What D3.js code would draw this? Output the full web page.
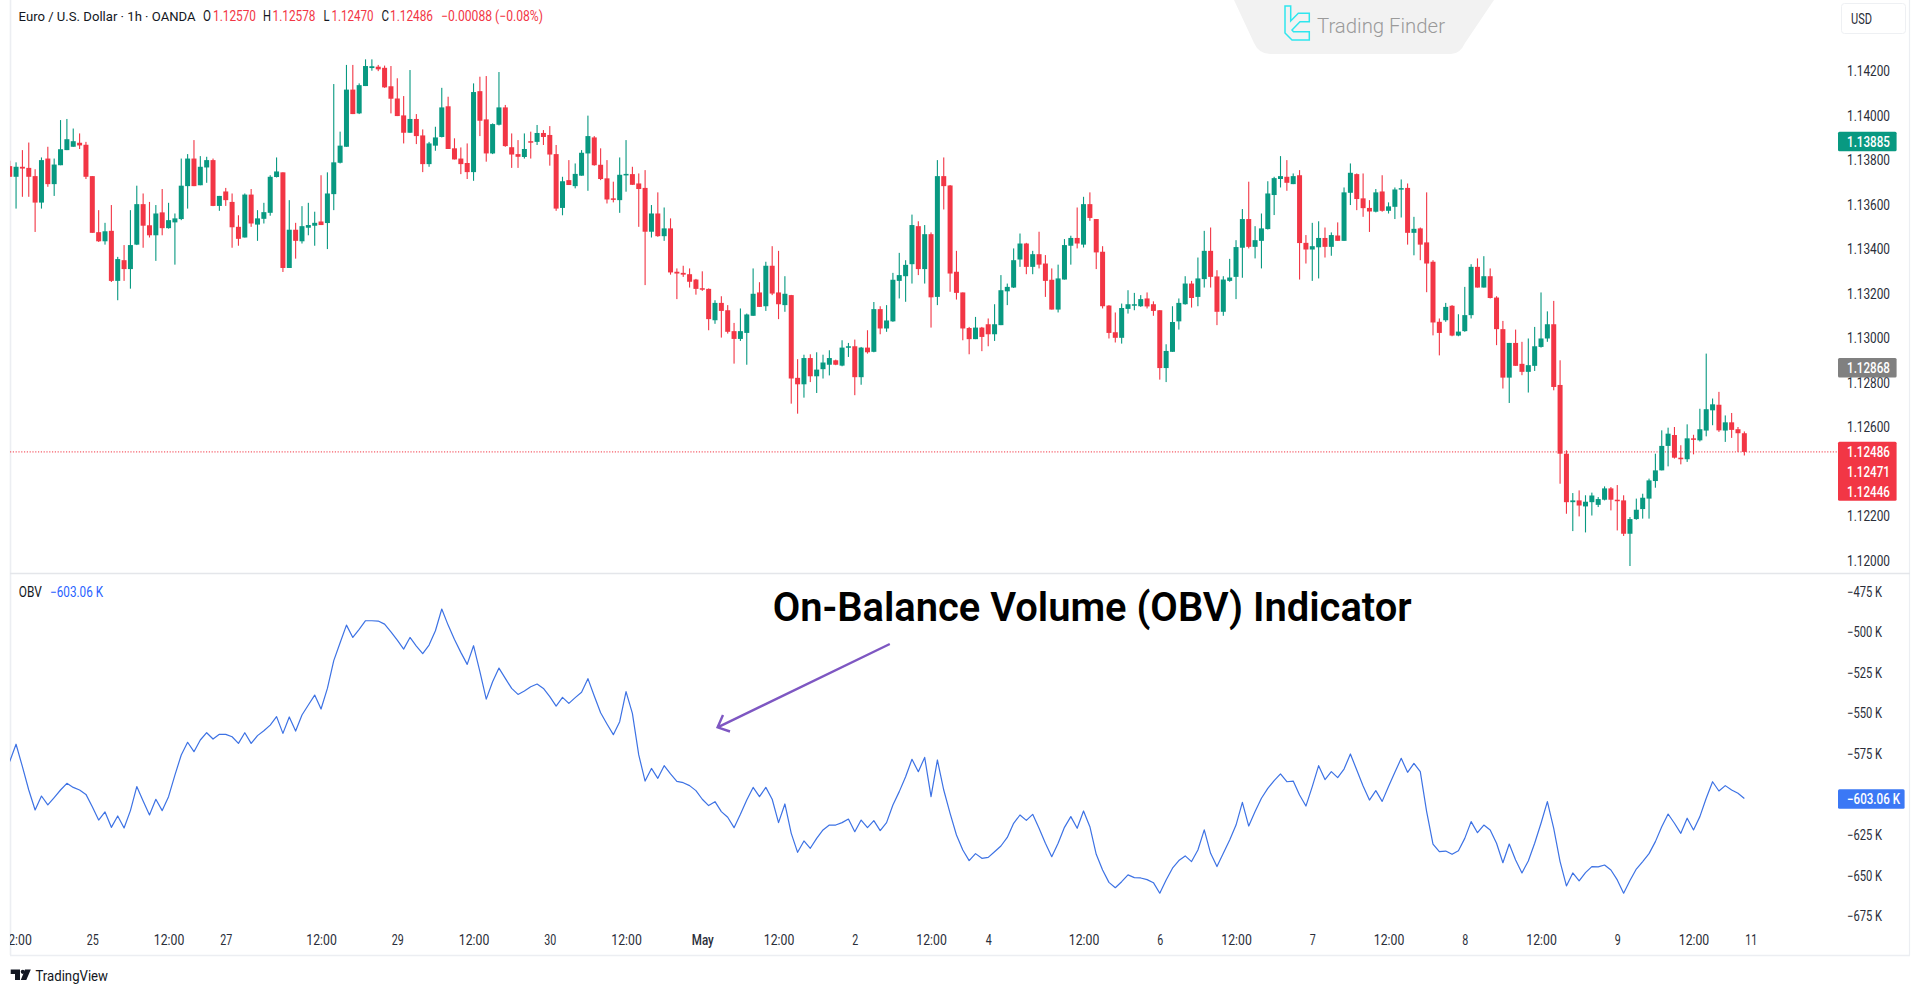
<!DOCTYPE html>
<html>
<head>
<meta charset="utf-8">
<script src="https://cdn.jsdelivr.net/npm/d3@7"></script>
<style>
html, body { margin: 0; padding: 0; background: #fff; }
text { font-family: Roboto, "Liberation Sans", sans-serif; }
</style>
</head>
<body>
<div></div>
<script>
// EUR/USD 1h candles
var highs = [
1.13795,1.13788,1.13843,1.13877,1.13757,1.13810,1.13858,1.13805,1.13978,1.13983,
1.13940,1.13918,1.13880,1.13726,1.13573,1.13516,1.13596,1.13363,1.13416,1.13573,
1.13683,1.13648,1.13610,1.13596,1.13668,1.13606,1.13558,1.13805,1.13825,1.13888,
1.13816,1.13813,1.13805,1.13637,1.13673,1.13648,1.13550,1.13648,1.13668,1.13573,
1.13606,1.13730,1.13810,1.13743,1.13618,1.13516,1.13591,1.13606,1.13566,1.13730,
1.13743,1.14140,1.13926,1.14226,1.14226,1.14143,1.14251,1.14251,1.14226,1.14223,
1.14221,1.14166,1.14086,1.14203,1.14005,1.13936,1.13880,1.13948,1.14123,1.14083,
1.13896,1.13855,1.13873,1.14143,1.14173,1.14176,1.13963,1.14194,1.14046,1.13918,
1.13888,1.13918,1.13926,1.13956,1.13933,1.13951,1.13866,1.13723,1.13798,1.13783,
1.13843,1.13998,1.13906,1.13851,1.13798,1.13701,1.13810,1.13888,1.13768,1.13738,
1.13753,1.13596,1.13653,1.13585,1.13536,1.13311,1.13323,1.13311,1.13264,1.13298,
1.13221,1.13168,1.13186,1.13146,1.13066,1.13131,1.13108,1.13311,1.13249,1.13341,
1.13411,1.13390,1.13276,1.13192,1.12903,1.12923,1.12925,1.12934,1.12923,1.12943,
1.12901,1.12988,1.12976,1.12991,1.12958,1.13033,1.13160,1.13141,1.13146,1.13291,
1.13381,1.13348,1.13553,1.13523,1.13506,1.13473,1.13798,1.13810,1.13686,1.13390,
1.13203,1.13048,1.13093,1.13048,1.13086,1.13150,1.13281,1.13243,1.13401,1.13468,
1.13426,1.13390,1.13476,1.13371,1.13311,1.13328,1.13443,1.13458,1.13585,1.13633,
1.13653,1.13533,1.13411,1.13146,1.13113,1.13153,1.13213,1.13201,1.13191,1.13203,
1.13163,1.13123,1.12970,1.13141,1.13176,1.13276,1.13255,1.13360,1.13480,1.13495,
1.13303,1.13276,1.13354,1.13438,1.13578,1.13701,1.13501,1.13558,1.13703,1.13723,
1.13816,1.13798,1.13738,1.13753,1.13461,1.13516,1.13523,1.13495,1.13473,1.13518,
1.13675,1.13783,1.13738,1.13738,1.13618,1.13668,1.13730,1.13608,1.13675,1.13711,
1.13693,1.13543,1.13495,1.13653,1.13348,1.13086,1.13156,1.13146,1.13105,1.13228,
1.13330,1.13356,1.13366,1.13311,1.13186,1.13075,1.12976,1.13036,1.12981,1.12996,
1.13048,1.13203,1.13118,1.13165,1.12898,1.12493,1.12301,1.12313,1.12291,1.12303,
1.12283,1.12331,1.12328,1.12337,1.12291,1.12193,1.12276,1.12298,1.12366,1.12478,
1.12583,1.12595,1.12598,1.12516,1.12610,1.12563,1.12680,1.12928,1.12726,1.12756,
1.12650,1.12661,1.12598,1.12578];
var lows = [
1.13723,1.13580,1.13633,1.13633,1.13475,1.13580,1.13678,1.13637,1.13775,1.13843,
1.13858,1.13848,1.13713,1.13471,1.13430,1.13418,1.13250,1.13168,1.13255,1.13220,
1.13416,1.13404,1.13450,1.13345,1.13460,1.13490,1.13328,1.13528,1.13580,1.13681,
1.13685,1.13696,1.13591,1.13570,1.13592,1.13404,1.13413,1.13450,1.13498,1.13435,
1.13513,1.13548,1.13720,1.13295,1.13313,1.13355,1.13423,1.13460,1.13413,1.13506,
1.13398,1.13573,1.13783,1.13858,1.14005,1.14005,1.14131,1.14200,1.14198,1.14123,
1.14008,1.13996,1.13873,1.13921,1.13870,1.13744,1.13768,1.13840,1.13900,1.13848,
1.13801,1.13735,1.13713,1.13705,1.13906,1.13791,1.13825,1.13954,1.13858,1.13763,
1.13763,1.13805,1.13805,1.13866,1.13866,1.13773,1.13570,1.13550,1.13686,1.13671,
1.13728,1.13660,1.13773,1.13708,1.13603,1.13608,1.13561,1.13656,1.13686,1.13498,
1.13236,1.13450,1.13453,1.13435,1.13283,1.13173,1.13273,1.13225,1.13193,1.13210,
1.13033,1.13062,1.13000,1.13018,1.12883,1.12985,1.12878,1.13098,1.13138,1.13120,
1.13191,1.13083,1.13116,1.12703,1.12658,1.12730,1.12800,1.12751,1.12816,1.12830,
1.12876,1.12871,1.12913,1.12741,1.12788,1.12928,1.12934,1.13015,1.13026,1.13071,
1.13176,1.13161,1.13243,1.13281,1.13243,1.13045,1.13146,1.13576,1.13206,1.13171,
1.12988,1.12925,1.12993,1.12939,1.12961,1.12985,1.13056,1.13146,1.13223,1.13318,
1.13285,1.13285,1.13311,1.13183,1.13126,1.13113,1.13261,1.13328,1.13401,1.13405,
1.13525,1.13308,1.13131,1.12996,1.12978,1.12973,1.13108,1.13123,1.13138,1.13131,
1.13098,1.12811,1.12800,1.12936,1.13036,1.13148,1.13135,1.13141,1.13225,1.13225,
1.13056,1.13098,1.13251,1.13173,1.13269,1.13401,1.13356,1.13311,1.13486,1.13551,
1.13675,1.13660,1.13690,1.13261,1.13333,1.13255,1.13266,1.13360,1.13368,1.13435,
1.13435,1.13596,1.13573,1.13543,1.13475,1.13563,1.13566,1.13558,1.13533,1.13540,
1.13418,1.13370,1.13348,1.13204,1.13010,1.12920,1.13071,1.13006,1.13006,1.13026,
1.13086,1.13225,1.13225,1.13176,1.12966,1.12771,1.12706,1.12873,1.12831,1.12753,
1.12850,1.12955,1.12981,1.12763,1.12343,1.12208,1.12130,1.12196,1.12124,1.12200,
1.12238,1.12268,1.12223,1.12133,1.12108,1.11973,1.12181,1.12186,1.12186,1.12325,
1.12403,1.12421,1.12456,1.12430,1.12441,1.12475,1.12533,1.12556,1.12606,1.12576,
1.12531,1.12549,1.12486,1.12470];
var opens = [
1.13771,1.13723,1.13768,1.13763,1.13726,1.13607,1.13805,1.13690,1.13775,1.13843,
1.13858,1.13876,1.13867,1.13726,1.13474,1.13433,1.13480,1.13255,1.13348,1.13308,
1.13418,1.13600,1.13505,1.13460,1.13563,1.13492,1.13518,1.13533,1.13681,1.13805,
1.13685,1.13765,1.13798,1.13592,1.13657,1.13610,1.13498,1.13450,1.13643,1.13508,
1.13534,1.13561,1.13722,1.13743,1.13313,1.13485,1.13433,1.13494,1.13503,1.13522,
1.13515,1.13645,1.13786,1.13858,1.14115,1.14008,1.14131,1.14212,1.14218,1.14213,
1.14130,1.14075,1.13999,1.13921,1.13983,1.13909,1.13780,1.13863,1.13902,1.14040,
1.13851,1.13805,1.13785,1.13744,1.14108,1.13981,1.13828,1.13957,1.14035,1.13856,
1.13825,1.13812,1.13883,1.13880,1.13920,1.13911,1.13825,1.13583,1.13708,1.13681,
1.13728,1.13828,1.13900,1.13777,1.13716,1.13626,1.13618,1.13732,1.13735,1.13693,
1.13673,1.13476,1.13558,1.13456,1.13491,1.13296,1.13291,1.13285,1.13261,1.13222,
1.13219,1.13078,1.13156,1.13123,1.13029,1.12994,1.13021,1.13098,1.13203,1.13141,
1.13323,1.13203,1.13146,1.13191,1.12819,1.12790,1.12908,1.12826,1.12858,1.12878,
1.12898,1.12874,1.12957,1.12961,1.12822,1.12955,1.12936,1.13128,1.13041,1.13073,
1.13255,1.13276,1.13330,1.13501,1.13308,1.13465,1.13183,1.13726,1.13684,1.13296,
1.13203,1.13043,1.12993,1.13045,1.13060,1.13015,1.13056,1.13208,1.13225,1.13351,
1.13423,1.13318,1.13375,1.13333,1.13260,1.13126,1.13261,1.13413,1.13448,1.13418,
1.13600,1.13533,1.13386,1.13144,1.13024,1.12999,1.13129,1.13146,1.13141,1.13176,
1.13150,1.13123,1.12863,1.12936,1.13073,1.13150,1.13243,1.13183,1.13263,1.13390,
1.13275,1.13116,1.13255,1.13273,1.13404,1.13533,1.13408,1.13435,1.13488,1.13641,
1.13713,1.13723,1.13690,1.13730,1.13426,1.13396,1.13406,1.13448,1.13408,1.13459,
1.13435,1.13651,1.13735,1.13626,1.13583,1.13566,1.13657,1.13570,1.13588,1.13666,
1.13673,1.13471,1.13491,1.13428,1.13341,1.13071,1.13078,1.13143,1.13009,1.13029,
1.13101,1.13318,1.13225,1.13276,1.13180,1.13038,1.12820,1.12976,1.12882,1.12846,
1.12873,1.12958,1.12996,1.13060,1.12787,1.12478,1.12260,1.12268,1.12241,1.12260,
1.12248,1.12271,1.12322,1.12271,1.12268,1.12118,1.12184,1.12229,1.12276,1.12355,
1.12403,1.12513,1.12562,1.12460,1.12453,1.12547,1.12538,1.12582,1.12673,1.12698,
1.12582,1.12619,1.12588,1.12570];
var closes = [
1.13723,1.13768,1.13760,1.13723,1.13607,1.13798,1.13690,1.13778,1.13847,1.13892,
1.13883,1.13864,1.13723,1.13471,1.13433,1.13478,1.13255,1.13353,1.13308,1.13416,
1.13600,1.13503,1.13460,1.13558,1.13492,1.13528,1.13536,1.13683,1.13805,1.13681,
1.13768,1.13798,1.13592,1.13637,1.13618,1.13496,1.13444,1.13643,1.13513,1.13536,
1.13564,1.13723,1.13747,1.13313,1.13485,1.13435,1.13501,1.13506,1.13516,1.13506,
1.13648,1.13788,1.13863,1.14115,1.14005,1.14135,1.14221,1.14220,1.14206,1.14125,
1.14074,1.13996,1.13921,1.13983,1.13906,1.13780,1.13873,1.13900,1.14035,1.13848,
1.13801,1.13780,1.13744,1.14104,1.13975,1.13828,1.13960,1.14035,1.13861,1.13823,
1.13813,1.13848,1.13880,1.13920,1.13902,1.13823,1.13580,1.13703,1.13686,1.13736,
1.13831,1.13906,1.13775,1.13713,1.13621,1.13621,1.13732,1.13736,1.13687,1.13668,
1.13476,1.13558,1.13456,1.13491,1.13293,1.13288,1.13283,1.13251,1.13219,1.13218,
1.13083,1.13156,1.13120,1.13026,1.12994,1.13029,1.13104,1.13197,1.13138,1.13323,
1.13198,1.13150,1.13197,1.12816,1.12790,1.12908,1.12826,1.12856,1.12888,1.12908,
1.12878,1.12955,1.12961,1.12822,1.12955,1.12934,1.13128,1.13041,1.13077,1.13260,
1.13281,1.13327,1.13506,1.13308,1.13465,1.13181,1.13726,1.13681,1.13288,1.13201,
1.13041,1.12993,1.13045,1.13003,1.13015,1.13060,1.13213,1.13228,1.13348,1.13423,
1.13318,1.13375,1.13328,1.13255,1.13126,1.13266,1.13416,1.13448,1.13423,1.13600,
1.13538,1.13383,1.13141,1.13021,1.12999,1.13133,1.13150,1.13150,1.13173,1.13140,
1.13120,1.12863,1.12940,1.13070,1.13156,1.13243,1.13178,1.13266,1.13390,1.13273,
1.13116,1.13261,1.13270,1.13407,1.13533,1.13408,1.13438,1.13491,1.13648,1.13717,
1.13726,1.13696,1.13726,1.13425,1.13396,1.13411,1.13448,1.13408,1.13461,1.13435,
1.13653,1.13741,1.13623,1.13582,1.13567,1.13653,1.13570,1.13590,1.13666,1.13672,
1.13471,1.13489,1.13418,1.13333,1.13068,1.13021,1.13138,1.13009,1.13027,1.13101,
1.13318,1.13225,1.13276,1.13178,1.13038,1.12820,1.12976,1.12873,1.12846,1.12876,
1.12961,1.12996,1.13060,1.12778,1.12478,1.12260,1.12268,1.12245,1.12262,1.12290,
1.12274,1.12322,1.12271,1.12265,1.12118,1.12184,1.12226,1.12280,1.12358,1.12403,
1.12513,1.12568,1.12460,1.12453,1.12547,1.12543,1.12588,1.12678,1.12700,1.12583,
1.12619,1.12585,1.12570,1.12486];

// OBV in thousands, one value per candle
var obv = [
-580.3,-569.6,-583.4,-597.8,-610.1,-601.5,-607.0,-602.5,-597.8,-593.7,
-596.2,-597.8,-600.5,-608.1,-616.3,-611.3,-620.8,-613.8,-621.2,-610.5,
-595.7,-604.6,-613.2,-603.5,-610.5,-601.9,-588.6,-576.2,-568.4,-574.2,
-567.0,-562.5,-566.4,-563.5,-563.5,-565.0,-569.1,-562.5,-569.1,-564.3,
-561.3,-557.8,-552.6,-562.9,-552.8,-561.5,-551.6,-545.4,-539.3,-547.9,
-535.2,-518.1,-507.1,-496.2,-503.8,-498.8,-493.5,-493.5,-493.7,-495.6,
-500.3,-505.4,-511.0,-503.8,-509.1,-513.8,-508.5,-499.7,-486.3,-496.2,
-505.0,-513.0,-520.4,-508.9,-524.9,-541.8,-531.1,-522.7,-529.0,-535.2,
-538.9,-536.8,-534.2,-532.5,-535.2,-540.3,-546.1,-540.7,-544.4,-540.9,
-537.6,-529.2,-539.9,-550.2,-557.1,-563.7,-555.7,-537.2,-550.6,-576.2,
-592.3,-584.5,-590.6,-582.8,-587.9,-592.5,-593.3,-595.1,-598.2,-603.5,
-607.4,-605.0,-611.1,-614.6,-621.0,-612.8,-604.0,-596.2,-601.9,-596.2,
-603.5,-617.9,-606.4,-624.5,-636.2,-629.2,-633.7,-627.6,-622.4,-619.4,
-619.4,-617.9,-615.7,-623.5,-616.3,-621.0,-616.7,-622.8,-617.9,-607.0,
-598.8,-589.6,-578.9,-586.5,-577.7,-601.9,-579.3,-597.8,-612.2,-625.5,
-634.8,-641.3,-637.0,-639.9,-639.3,-635.8,-632.3,-627.0,-618.3,-613.2,
-616.5,-612.8,-621.4,-630.6,-638.9,-630.6,-620.8,-614.2,-621.4,-610.7,
-620.4,-637.4,-647.1,-654.7,-658.0,-654.3,-650.1,-651.8,-652.0,-653.0,
-654.9,-661.4,-653.2,-646.0,-641.3,-638.4,-641.9,-634.8,-622.4,-636.8,
-645.0,-636.8,-628.6,-619.4,-605.4,-620.0,-611.1,-602.9,-596.8,-592.0,
-587.9,-592.7,-592.3,-600.9,-607.7,-595.7,-582.8,-591.4,-586.5,-590.2,
-584.9,-575.6,-585.5,-595.3,-604.0,-598.2,-604.8,-595.7,-586.9,-578.3,
-586.9,-581.4,-586.5,-611.1,-631.1,-635.8,-635.4,-637.4,-635.2,-627.6,
-617.3,-624.1,-619.4,-622.4,-630.6,-642.6,-631.1,-640.9,-648.9,-641.5,
-630.6,-618.3,-605.0,-621.4,-641.9,-656.9,-648.9,-653.8,-648.7,-645.0,
-645.2,-644.0,-647.1,-653.2,-661.4,-653.6,-646.5,-641.9,-637.0,-629.6,
-620.4,-612.6,-618.3,-624.5,-615.2,-622.4,-614.2,-602.9,-592.7,-598.4,
-595.1,-597.8,-599.8,-603.06];

// axis ticks
var priceTicks = [1.142, 1.14, 1.138, 1.136, 1.134, 1.132, 1.13, 1.128, 1.126, 1.122, 1.12];
var obvTicks = [-475, -500, -525, -550, -575, -625, -650, -675];
var timeTickBars = [1, 13, 25, 34, 49, 61, 73, 85, 97, 109, 121, 133, 145, 154, 169, 181, 193, 205, 217, 229, 241, 253, 265, 274];
var timeTickLabels = ['12:00', '25', '12:00', '27', '12:00', '29', '12:00', '30', '12:00', 'May', '12:00', '2', '12:00', '4', '12:00', '6', '12:00', '7', '12:00', '8', '12:00', '9', '12:00', '11'];

// price tags on the right side
var priceTags = [
    { value: 1.13885, color: '#089981' },
    { value: 1.12868, color: '#808080' }
];
var lastPriceTags = [1.12486, 1.12471, 1.12446];
var legendParts = [
    { text: 'O', x: 203, w: 8, color: '#131722' },
    { text: '1.12570', x: 213, w: 43, color: '#f23645' },
    { text: 'H', x: 263, w: 8, color: '#131722' },
    { text: '1.12578', x: 272.5, w: 43, color: '#f23645' },
    { text: 'L', x: 323.5, w: 6, color: '#131722' },
    { text: '1.12470', x: 331.5, w: 42, color: '#f23645' },
    { text: 'C', x: 381.5, w: 7.5, color: '#131722' },
    { text: '1.12486', x: 390, w: 43, color: '#f23645' },
    { text: '\u22120.00088 (\u22120.08%)', x: 441, w: 102, color: '#f23645' }
];

var width = 1919;
var height = 996;
var green = '#089981';
var red = '#f23645';
var blue = '#3d72e4';
var axisText = '#2a2e39';

var svg = d3.select('div')
    .append('svg')
    .attr('width', width)
    .attr('height', height)
    .style('display', 'block');

svg.append('rect').attr('width', width).attr('height', height).attr('fill', '#fff');

// scales: bar index to x, values to y
var x = d3.scaleLinear().domain([0, 274]).range([9.7, 1750.7]);
var yPrice = d3.scaleLinear().domain([1.12, 1.142]).range([560, 70.7]);
var yObv = d3.scaleLinear().domain([-675, -475]).range([915.3, 590.7]);

svg.append('clipPath').attr('id', 'pane')
    .append('rect').attr('x', 10).attr('y', 0).attr('width', 1828).attr('height', 960);

// Trading Finder badge behind the chart
var badge = svg.append('g');
badge.append('path')
    .attr('d', 'M1234,0 L1254,43 Q1259,54 1270,54 L1451,54 Q1460,54 1465,43 L1494,0 Z')
    .attr('fill', '#f2f2f2');
badge.append('path')
    .attr('d', 'M1285,6 L1290.7,6 L1290.7,21 L1298.3,13.3 L1309.3,13.3 L1309.3,21.7 L1300,21.7 L1292,30 L1293.5,31.7 L1309.3,31.7 L1309.3,40 L1292,40 L1285,33 Z')
    .attr('fill', 'none')
    .attr('stroke', '#2fe6ee')
    .attr('stroke-width', 1.5);
badge.append('text')
    .attr('x', 1317).attr('y', 32.5)
    .attr('textLength', 128).attr('lengthAdjust', 'spacingAndGlyphs')
    .attr('font-size', 20).attr('font-weight', 300).attr('fill', '#9a9a9a')
    .text('Trading Finder');

// pane frame
var frame = svg.append('g').attr('stroke', '#eceef2').attr('fill', 'none');
frame.append('line').attr('x1', 10.5).attr('x2', 10.5).attr('y1', 0).attr('y2', 955).attr('stroke-width', 1.6);
frame.append('line').attr('x1', 1909.5).attr('x2', 1909.5).attr('y1', 0).attr('y2', 955).attr('stroke-width', 1.2);
frame.append('line').attr('x1', 10).attr('x2', 1910).attr('y1', 573.5).attr('y2', 573.5).attr('stroke', '#e4e6ea').attr('stroke-width', 1.5);
frame.append('line').attr('x1', 10).attr('x2', 1910).attr('y1', 955.5).attr('y2', 955.5).attr('stroke-width', 1.4);

// last price line
svg.append('line')
    .attr('x1', 10).attr('x2', 1838)
    .attr('y1', yPrice(1.12486)).attr('y2', yPrice(1.12486))
    .attr('stroke', red)
    .attr('stroke-width', 1)
    .attr('stroke-dasharray', '1.2,1.6');

// candles
var candles = svg.append('g').attr('clip-path', 'url(#pane)')
    .selectAll('g')
    .data(opens)
    .enter()
    .append('g')
    .attr('fill', (d, i) => closes[i] >= d ? green : red);

candles.append('rect')
    .attr('x', (d, i) => x(i) - 0.55)
    .attr('width', 1.1)
    .attr('y', (d, i) => yPrice(highs[i]))
    .attr('height', (d, i) => yPrice(lows[i]) - yPrice(highs[i]));

candles.append('rect')
    .attr('x', (d, i) => x(i) - 2.5)
    .attr('width', 5)
    .attr('y', (d, i) => yPrice(Math.max(d, closes[i])))
    .attr('height', (d, i) => Math.max(1.5, Math.abs(yPrice(d) - yPrice(closes[i]))));

// OBV line
var obvLine = d3.line()
    .x((d, i) => x(i))
    .y((d) => yObv(d));

svg.append('path')
    .attr('clip-path', 'url(#pane)')
    .datum(obv)
    .attr('d', obvLine)
    .attr('fill', 'none')
    .attr('stroke', blue)
    .attr('stroke-width', 1.2)
    .attr('stroke-linejoin', 'round');

// axes
var priceAxis = svg.append('g')
    .attr('transform', 'translate(1847,0.6)')
    .call(d3.axisRight(yPrice).tickValues(priceTicks).tickSize(0).tickPadding(0).tickFormat(d3.format('.5f')));
priceAxis.select('.domain').remove();

var obvAxis = svg.append('g')
    .attr('transform', 'translate(1847,1)')
    .call(d3.axisRight(yObv).tickValues(obvTicks).tickSize(0).tickPadding(0).tickFormat((d) => '\u2212' + Math.abs(d) + ' K'));
obvAxis.select('.domain').remove();

var timeAxis = svg.append('g')
    .attr('transform', 'translate(0,935)')
    .attr('clip-path', 'url(#timeClip)')
    .call(d3.axisBottom(x).tickValues(timeTickBars).tickSize(0).tickPadding(0).tickFormat((d, i) => timeTickLabels[i]));
timeAxis.select('.domain').remove();
svg.append('clipPath').attr('id', 'timeClip')
    .append('rect').attr('x', 10).attr('y', -6).attr('width', 1828).attr('height', 26);

svg.selectAll('.tick text')
    .attr('font-family', 'Roboto')
    .attr('font-size', 14)
    .attr('fill', axisText);

priceAxis.selectAll('.tick text').attr('textLength', 43).attr('lengthAdjust', 'spacingAndGlyphs');
obvAxis.selectAll('.tick text').attr('textLength', 35).attr('lengthAdjust', 'spacingAndGlyphs');
timeAxis.selectAll('.tick text')
    .attr('font-weight', (d, i) => timeTickLabels[i] === 'May' ? 500 : 400)
    .attr('textLength', (d, i) => timeTickLabels[i] === 'May' ? 22 : timeTickLabels[i].length === 5 ? 30.5 : timeTickLabels[i].length * 6)
    .attr('lengthAdjust', 'spacingAndGlyphs');

// price tags
var tagBox = (cy, h, w, color) => svg.append('rect')
    .attr('x', 1838).attr('width', w)
    .attr('y', cy - h / 2).attr('height', h)
    .attr('rx', 1.5)
    .attr('fill', color);
var tagText = (cy, str, w) => svg.append('text')
    .attr('x', 1847).attr('y', cy + 5)
    .attr('font-size', 14).attr('font-weight', 500).attr('fill', '#fff')
    .attr('textLength', w).attr('lengthAdjust', 'spacingAndGlyphs')
    .text(str);

priceTags.forEach((t) => {
    tagBox(yPrice(t.value) + 0.8, 19.6, 58.6, t.color);
    tagText(yPrice(t.value) + 0.8, t.value.toFixed(5), 43);
});
tagBox(471.2, 59, 58.6, red);
lastPriceTags.forEach((p, i) => {
    tagText(452 + i * 19.9, p.toFixed(5), 43);
});
tagBox(yObv(-603.06) + 0.5, 19.6, 66.6, '#3b78f5');
tagText(yObv(-603.06) + 0.5, '\u2212603.06 K', 53);

// USD box
svg.append('rect')
    .attr('x', 1841.5).attr('y', 3.5).attr('width', 64).attr('height', 30).attr('rx', 3)
    .attr('fill', '#fff').attr('stroke', '#eef0f3');
svg.append('text')
    .attr('x', 1851).attr('y', 24)
    .attr('font-size', 14).attr('fill', axisText)
    .attr('textLength', 21).attr('lengthAdjust', 'spacingAndGlyphs')
    .text('USD');

// legend
var legendText = (str, xPos, yPos, w, color, size) => svg.append('text')
    .attr('x', xPos).attr('y', yPos)
    .attr('font-size', size || 14).attr('fill', color)
    .attr('textLength', w).attr('lengthAdjust', 'spacingAndGlyphs')
    .text(str);

legendText('Euro / U.S. Dollar \u00b7 1h \u00b7 OANDA', 18.6, 20.8, 177, '#131722', 13);
legendParts.forEach((p) => legendText(p.text, p.x, 21, p.w, p.color));
legendText('OBV', 18.8, 596.7, 23, '#131722');
legendText('\u2212603.06 K', 50, 596.7, 53, '#2962ff');

// annotation
svg.append('text')
    .attr('x', 772.7).attr('y', 621)
    .attr('font-size', 40).attr('font-weight', 600).attr('fill', '#000')
    .attr('textLength', 639).attr('lengthAdjust', 'spacingAndGlyphs')
    .text('On-Balance Volume (OBV) Indicator');

svg.append('path')
    .attr('d', 'M889.8,644 L717.6,727.3 M723,715 L717.6,727.3 L730,731.5')
    .attr('fill', 'none')
    .attr('stroke', '#7e57c2')
    .attr('stroke-width', 2.4);

// TradingView mark
svg.append('path')
    .attr('d', 'M10.7,969.5 L20,969.5 L20,980 L15,980 L15,974 L10.7,974 Z M25,969.5 L30.8,969.5 L26.3,980 L20.8,980 Z')
    .attr('fill', '#131722');
svg.append('circle').attr('cx', 22.8).attr('cy', 971.8).attr('r', 2.1).attr('fill', '#131722');
svg.append('text')
    .attr('x', 35.5).attr('y', 980.5)
    .attr('font-size', 15).attr('font-weight', 400).attr('fill', '#131722')
    .attr('textLength', 72.5).attr('lengthAdjust', 'spacingAndGlyphs')
    .text('TradingView');
</script>
</body>
</html>
